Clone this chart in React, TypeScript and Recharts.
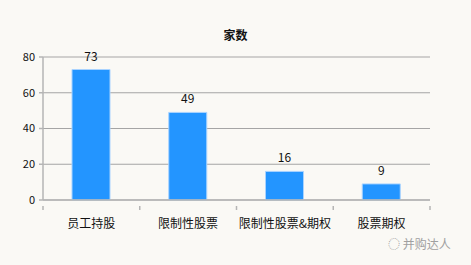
import React from "react";
import { Bar, BarChart, CartesianGrid, LabelList, XAxis, YAxis } from "recharts";

const categories = ["员工持股", "限制性股票", "限制性股票&期权", "股票期权"];
const counts = [73, 49, 16, 9];
const yTicks = [0, 20, 40, 60, 80];

const font = '"Noto Sans CJK SC", "Microsoft YaHei", sans-serif';

const CHART_W = 471;
const MARGIN_L = 43;
const MARGIN_R = 41;
const BAND = (CHART_W - MARGIN_L - MARGIN_R) / categories.length;

function CategoryTick(props: any) {
  const { x, y, payload, index } = props;
  const axisY = y - 10;
  const last = index === categories.length - 1;
  return (
    <g>
      <line x1={x - BAND / 2} x2={x - BAND / 2} y1={axisY} y2={axisY + 4} stroke="#b5b5b5" strokeWidth={1.5} />
      {last && (
        <line x1={x + BAND / 2} x2={x + BAND / 2} y1={axisY} y2={axisY + 4} stroke="#b5b5b5" strokeWidth={1.5} />
      )}
      <text x={x} y={y} dy={12} textAnchor="middle" fill="#111" fontSize={12} fontFamily={font}>
        {payload.value}
      </text>
    </g>
  );
}

export default function App() {
  const data = categories.map((name, i) => ({ name, value: counts[i] }));

  return (
    <div
      style={{
        position: "absolute",
        left: 0,
        top: 0,
        width: CHART_W,
        height: 265,
        background: "#faf9f5",
        fontFamily: font,
      }}
    >
      <div
        style={{
          position: "absolute",
          top: 26,
          left: 0,
          width: CHART_W,
          textAlign: "center",
          fontSize: 12,
          fontWeight: 700,
          color: "#111",
        }}
      >
        家数
      </div>
      <BarChart
        width={CHART_W}
        height={265}
        data={data}
        margin={{ top: 57, right: MARGIN_R, left: 0, bottom: 35 }}
      >
        <CartesianGrid vertical={false} stroke="#a5a5a5" strokeWidth={1.2} />
        <XAxis
          dataKey="name"
          height={30}
          stroke="#b5b5b5"
          strokeWidth={1.5}
          tickLine={false}
          tick={<CategoryTick />}
          tickMargin={10}
          interval={0}
        />
        <YAxis
          domain={[0, 80]}
          ticks={yTicks}
          width={MARGIN_L}
          stroke="#b5b5b5"
          strokeWidth={1.5}
          tickSize={4}
          tick={{ fill: "#111", fontSize: 11, fontFamily: font }}
          tickMargin={4}
        />
        <Bar
          dataKey="value"
          fill="#2395ff"
          stroke="#a9d3ff"
          strokeWidth={1}
          barSize={38}
          isAnimationActive={false}
        >
          <LabelList
            dataKey="value"
            position="top"
            offset={9}
            style={{ fill: "#111", fontSize: 12, fontFamily: font }}
          />
        </Bar>
      </BarChart>
      <div
        style={{
          position: "absolute",
          left: 388,
          top: 235,
          fontSize: 12,
          color: "#a0a0a0",
          whiteSpace: "nowrap",
        }}
      >
        ◌ 并购达人
      </div>
    </div>
  );
}
